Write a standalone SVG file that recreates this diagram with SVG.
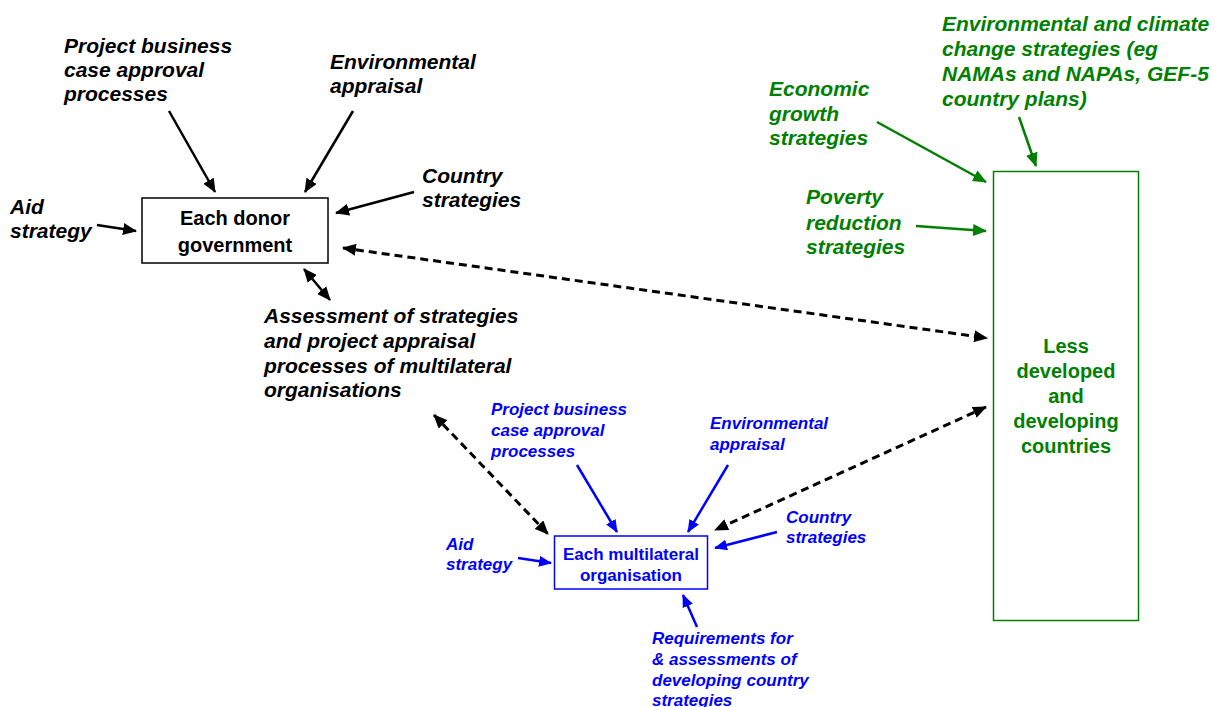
<svg xmlns="http://www.w3.org/2000/svg" width="1214" height="707" viewBox="0 0 1214 707">
<style>
text{font-family:"Liberation Sans",Arial,sans-serif;font-weight:bold}
.lab{font-style:italic;font-size:21px}
.blab{font-style:italic;font-size:17px;fill:#0000ff}
.glab{font-style:italic;font-size:21px;fill:#008000}
.nt{font-size:20px;text-anchor:middle}
.ln{stroke:#000;stroke-width:2.5;fill:none}
.dash{stroke:#000;stroke-width:3;fill:none;stroke-dasharray:8 5}
.bl{stroke:#0000ff;stroke-width:2.5;fill:none}
.gr{stroke:#008000;stroke-width:2.5;fill:none}
</style>
<defs>
<marker id="ak" viewBox="0 0 14 12" refX="13" refY="6" markerWidth="14" markerHeight="12" markerUnits="userSpaceOnUse" orient="auto-start-reverse"><path d="M0,0 L14,6 L0,12 z" fill="#000"/></marker>
<marker id="ab" viewBox="0 0 13 11" refX="12" refY="5.5" markerWidth="13" markerHeight="11" markerUnits="userSpaceOnUse" orient="auto"><path d="M0,0 L13,5.5 L0,11 z" fill="#0000ff"/></marker>
<marker id="ag" viewBox="0 0 14 12" refX="13" refY="6" markerWidth="14" markerHeight="12" markerUnits="userSpaceOnUse" orient="auto"><path d="M0,0 L14,6 L0,12 z" fill="#008000"/></marker>
</defs>
<rect width="1214" height="707" fill="#fff"/>

<g id="connectors">
<line class="ln" x1="169" y1="111" x2="215" y2="192" marker-end="url(#ak)"/>
<line class="ln" x1="353" y1="111" x2="305" y2="192" marker-end="url(#ak)"/>
<line class="ln" x1="414" y1="192" x2="336" y2="213" marker-end="url(#ak)"/>
<line class="ln" x1="97" y1="225" x2="136" y2="231" marker-end="url(#ak)"/>
<line class="ln" x1="304" y1="269" x2="330" y2="300" marker-start="url(#ak)" marker-end="url(#ak)"/>
<line class="dash" x1="343" y1="248" x2="987" y2="338" marker-start="url(#ak)" marker-end="url(#ak)"/>
<line class="dash" x1="434" y1="415" x2="548" y2="534" marker-start="url(#ak)" marker-end="url(#ak)"/>
<line class="dash" x1="986" y1="407" x2="715" y2="530" marker-start="url(#ak)" marker-end="url(#ak)"/>
<line class="bl" x1="577" y1="465" x2="617" y2="532" marker-end="url(#ab)"/>
<line class="bl" x1="728" y1="465" x2="688" y2="532" marker-end="url(#ab)"/>
<line class="bl" x1="777" y1="532" x2="715" y2="548" marker-end="url(#ab)"/>
<line class="bl" x1="518" y1="558" x2="551" y2="563" marker-end="url(#ab)"/>
<line class="bl" x1="697" y1="627" x2="683" y2="595" marker-end="url(#ab)"/>
<line class="gr" x1="877" y1="122" x2="986" y2="182" marker-end="url(#ag)"/>
<line class="gr" x1="1019" y1="117" x2="1036" y2="166" marker-end="url(#ag)"/>
<line class="gr" x1="916" y1="226" x2="986" y2="231" marker-end="url(#ag)"/>
</g>

<g id="donor">
<rect x="142" y="198" width="186" height="65" fill="#fff" stroke="#000" stroke-width="1.5"/>
<text class="nt" x="235" y="225">Each donor</text>
<text class="nt" x="235" y="252">government</text>
</g>

<g id="multilateral">
<rect x="554.5" y="536" width="153" height="53" fill="#fff" stroke="#0000ff" stroke-width="1.5"/>
<text class="nt" x="631" y="560" style="font-size:17px;fill:#0000ff">Each multilateral</text>
<text class="nt" x="631" y="581" style="font-size:17px;fill:#0000ff">organisation</text>
</g>

<g id="ldc">
<rect x="993.5" y="171.5" width="145" height="449" fill="none" stroke="#008000" stroke-width="1.5"/>
<text class="nt" x="1066" y="353" fill="#008000">Less</text>
<text class="nt" x="1066" y="378" fill="#008000">developed</text>
<text class="nt" x="1066" y="403" fill="#008000">and</text>
<text class="nt" x="1066" y="428" fill="#008000">developing</text>
<text class="nt" x="1066" y="453" fill="#008000">countries</text>
</g>

<g id="donor-inputs">
<text class="lab" x="64" y="53">Project business</text>
<text class="lab" x="64" y="77">case approval</text>
<text class="lab" x="64" y="101">processes</text>
<text class="lab" x="330" y="69">Environmental</text>
<text class="lab" x="330" y="93">appraisal</text>
<text class="lab" x="422" y="183">Country</text>
<text class="lab" x="422" y="207">strategies</text>
<text class="lab" x="10" y="214">Aid</text>
<text class="lab" x="10" y="238">strategy</text>
</g>

<g id="assessment">
<text class="lab" x="264" y="323">Assessment of strategies</text>
<text class="lab" x="264" y="348">and project appraisal</text>
<text class="lab" x="264" y="373">processes of multilateral</text>
<text class="lab" x="264" y="397">organisations</text>
</g>

<g id="multilateral-inputs">
<text class="blab" x="491" y="415">Project business</text>
<text class="blab" x="491" y="436">case approval</text>
<text class="blab" x="491" y="457">processes</text>
<text class="blab" x="710" y="429">Environmental</text>
<text class="blab" x="710" y="450">appraisal</text>
<text class="blab" x="786" y="523">Country</text>
<text class="blab" x="786" y="543">strategies</text>
<text class="blab" x="446" y="550">Aid</text>
<text class="blab" x="446" y="570">strategy</text>
<text class="blab" x="652" y="644">Requirements for</text>
<text class="blab" x="652" y="665">&amp; assessments of</text>
<text class="blab" x="652" y="686">developing country</text>
<text class="blab" x="652" y="706">strategies</text>
</g>

<g id="ldc-inputs">
<text class="glab" x="942" y="31">Environmental and climate</text>
<text class="glab" x="942" y="56">change strategies (eg</text>
<text class="glab" x="942" y="81">NAMAs and NAPAs, GEF-5</text>
<text class="glab" x="942" y="106">country plans)</text>
<text class="glab" x="769" y="96">Economic</text>
<text class="glab" x="769" y="121">growth</text>
<text class="glab" x="769" y="145">strategies</text>
<text class="glab" x="806" y="204">Poverty</text>
<text class="glab" x="806" y="230">reduction</text>
<text class="glab" x="806" y="254">strategies</text>
</g>
</svg>
